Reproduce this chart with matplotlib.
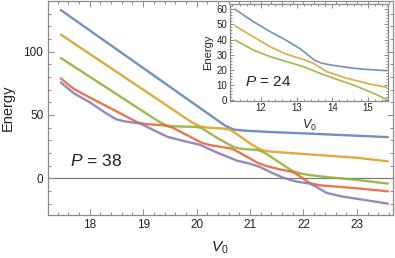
import matplotlib
matplotlib.use("Agg")
import matplotlib.pyplot as plt
from matplotlib.ticker import MultipleLocator

plt.rcParams['font.family'] = ['Liberation Sans', 'DejaVu Sans']
plt.rcParams['mathtext.fontset'] = 'custom'
plt.rcParams['mathtext.rm'] = 'Liberation Sans'
plt.rcParams['mathtext.it'] = 'Liberation Sans:italic'

# ---- main panel data (P = 38) ----
blue_v = [17.46, 18.0, 19.0, 20.0, 20.4, 20.55, 20.7, 20.9, 21.5, 22.0, 23.0, 23.58]
blue_e = [132.8, 116.8, 87.1, 57.4, 45.5, 41.2, 38.4, 37.6, 36.3, 35.5, 33.6, 32.5]

orange_v = [17.46, 18.0, 19.0, 19.9, 20.06, 20.2, 20.5, 20.62, 20.75, 21.0, 21.2, 21.35, 22.0, 23.0, 23.58]
orange_e = [113.5, 98.2, 70.0, 44.5, 41.0, 40.0, 39.3, 38.5, 35.0, 27.5, 22.6, 21.2, 19.2, 16.2, 13.4]

green_v = [17.46, 18.0, 19.0, 19.3, 19.45, 19.6, 20.0, 20.1, 20.4, 20.7, 20.85, 21.15, 21.3, 21.8,
           21.95, 22.1, 22.43, 23.0, 23.58]
green_e = [95.0, 80.2, 52.8, 44.6, 41.5, 41.0, 40.6, 39.5, 31.5, 24.5, 23.2, 22.3, 19.5, 5.5,
           3.8, 2.6, 1.0, -1.3, -4.2]

red_v = [17.46, 17.7, 18.0, 18.5, 18.9, 19.05, 19.4, 19.55, 20.1, 20.25, 20.65, 20.75, 21.15, 21.3,
         21.56, 21.8, 21.9, 22.12, 22.3, 23.0, 23.58]
red_e = [78.8, 70.6, 63.8, 52.9, 44.0, 42.8, 41.8, 40.0, 28.0, 26.2, 23.5, 21.5, 12.0, 9.8,
         7.0, 5.0, 2.5, -3.8, -5.5, -7.9, -10.3]

purple_v = [17.46, 17.7, 18.0, 18.3, 18.5, 18.65, 18.95, 19.1, 19.45, 19.8, 20.06, 20.4, 20.75, 21.0,
            21.18, 21.4, 21.62, 21.85, 22.12, 22.25, 22.43, 22.7, 23.0, 23.58]
purple_e = [75.6, 67.2, 60.0, 51.5, 46.5, 45.0, 43.2, 40.0, 32.8, 29.0, 26.5, 20.0, 14.0, 11.5,
            9.0, 4.5, 0.5, -2.5, -4.2, -7.0, -11.5, -14.2, -16.2, -20.0]

# ---- inset data (P = 24) ----
in_blue_v = [11.27, 11.78, 12.25, 12.72, 13.1, 13.35, 13.5, 13.7, 14.0, 14.59, 15.0, 15.52]
in_blue_e = [60.0, 51.9, 45.3, 39.3, 33.8, 29.2, 26.3, 24.3, 23.0, 21.0, 20.2, 19.4]

in_orange_v = [11.27, 11.78, 12.25, 12.72, 13.18, 13.47, 13.65, 13.84, 14.4, 15.05, 15.52]
in_orange_e = [49.0, 41.9, 35.3, 30.2, 26.9, 24.3, 21.5, 18.8, 14.4, 10.6, 8.4]

in_green_v = [11.27, 11.78, 12.25, 12.72, 13.18, 13.65, 14.12, 14.59, 15.05, 15.52]
in_green_e = [39.7, 33.1, 28.7, 25.4, 22.1, 17.7, 13.7, 9.9, 5.5, 0.5]

x_ticks = [18, 19, 20, 21, 22, 23]
y_ticks = [0, 50, 100]
in_x_ticks = [12, 13, 14, 15]
in_y_ticks = [0, 10, 20, 30, 40, 50, 60]

C_BLUE, C_ORANGE, C_GREEN, C_RED, C_PURPLE = '#5E81B5', '#E19C24', '#8FB032', '#EB6235', '#8778B3'
FRAME = '#8a8a8a'
TXT = '#222222'

W, H = 395, 258
fig = plt.figure(figsize=(W / 100, H / 100), dpi=100)

def style_frame(ax, xmaj, xmin, ymaj, ymin, lab_size, maj_len, min_len):
    for s in ax.spines.values():
        s.set_color(FRAME)
        s.set_linewidth(0.9)
    ax.xaxis.set_major_locator(MultipleLocator(xmaj))
    ax.xaxis.set_minor_locator(MultipleLocator(xmin))
    ax.yaxis.set_major_locator(MultipleLocator(ymaj))
    ax.yaxis.set_minor_locator(MultipleLocator(ymin))
    ax.tick_params(which='both', direction='in', top=True, right=True, color=FRAME,
                   labelsize=lab_size, labelcolor=TXT, width=0.7)
    ax.tick_params(which='major', length=maj_len, pad=3)
    ax.tick_params(which='minor', length=min_len)

# main axes
ax = fig.add_axes([47.5 / W, 1 - 215 / H, (392.7 - 47.5) / W, (215 - 0.5) / H])
ax.axhline(0, color='#7a7a7a', lw=0.9, zorder=1)
for v, e, c in [(blue_v, blue_e, C_BLUE), (orange_v, orange_e, C_ORANGE), (green_v, green_e, C_GREEN),
                (red_v, red_e, C_RED), (purple_v, purple_e, C_PURPLE)]:
    ax.plot(v, e, color=c, lw=1.7, solid_capstyle='round', zorder=3, alpha=0.88)
ax.set_xlim(17.21, 23.67)
ax.set_ylim(-29, 140.4)
style_frame(ax, 1, 0.2, 50, 10, 8.5, 4, 2.2)
ax.set_xticks(x_ticks)
ax.set_yticks(y_ticks)
ax.set_xlabel(r'$V_0$', fontsize=11, color=TXT, labelpad=6)
ax.set_ylabel('Energy', fontsize=10.5, color=TXT, labelpad=6)
ax.text(0.065, 0.252, r'$P$ = 38', transform=ax.transAxes, fontsize=12.5, color=TXT,
        ha='left', va='center')

# inset axes
ins = fig.add_axes([230 / W, 1 - 100.7 / H, (388 - 230) / W, (100.7 - 4) / H])
ins.set_facecolor('white')
for v, e, c in [(in_blue_v, in_blue_e, C_BLUE), (in_orange_v, in_orange_e, C_ORANGE),
                (in_green_v, in_green_e, C_GREEN)]:
    ins.plot(v, e, color=c, lw=1.2, solid_capstyle='round', zorder=3, alpha=0.88)
ins.set_xlim(11.13, 15.56)
ins.set_ylim(-0.46, 63.5)
style_frame(ins, 1, 0.2, 10, 2, 7, 3, 1.6)
ins.set_xticks(in_x_ticks)
ins.set_yticks(in_y_ticks)
ins.tick_params(which='major', pad=2)
ins.set_xlabel(r'$V_0$', fontsize=9, color=TXT, labelpad=3)
ins.set_ylabel('Energy', fontsize=8, color=TXT, labelpad=2)
ins.text(0.095, 0.196, r'$P$ = 24', transform=ins.transAxes, fontsize=11, color=TXT,
         ha='left', va='center')

fig.savefig('out.png', dpi=100)
